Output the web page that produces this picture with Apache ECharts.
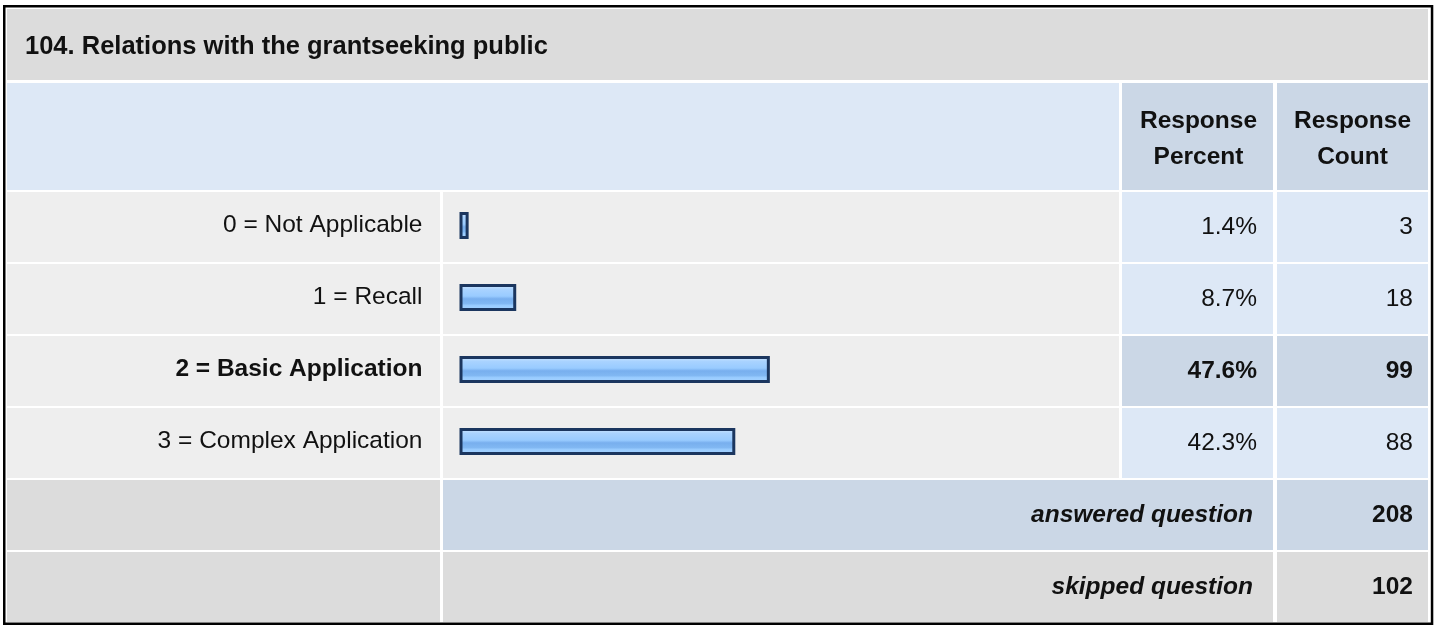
<!DOCTYPE html>
<html>
<head>
<meta charset="utf-8">
<script src="https://cdn.jsdelivr.net/npm/echarts@6/dist/echarts.min.js"></script>
<style>
html,body{margin:0;padding:0;background:#fff;}
#c{width:1438px;height:625px;}
</style>
</head>
<body>
<div id="c"></div>
<script>
// ---- data ----
const titleText = '104. Relations with the grantseeking public';
const categories = ['0 = Not Applicable', '1 = Recall', '2 = Basic Application', '3 = Complex Application'];
const percents = [1.4, 8.7, 47.6, 42.3];
const counts = [3, 18, 99, 88];
const headerLabels = ['Response\nPercent', 'Response\nCount'];
const summaryLabels = ['answered question', 'skipped question'];
const summaryValues = [208, 102];

// ---- layout / style ----
const FONT = "Arial, Helvetica, sans-serif";
const FS = 24.5;
const C_GREY = '#dcdcdc', C_ROW = '#eeeeee', C_BLUE = '#dde8f6', C_BLUE2 = '#cbd7e6';
const cols = [[7, 440], [443, 1119], [1122, 1273], [1277, 1428]];
const rowTop0 = 192, rowStep = 72, rowH = 70;
const hi = counts.indexOf(Math.max.apply(null, counts));

const g = [];
function rect(x0, x1, y0, y1, fill) {
  g.push({type: 'rect', z: 0, shape: {x: x0, y: y0, width: x1 - x0, height: y1 - y0}, style: {fill: fill}});
}
function text(str, x, y, align, weight, style, size, extra) {
  g.push({type: 'text', z: 10, x: x, y: y,
    style: Object.assign({text: str, fill: '#111', fontFamily: FONT, fontSize: size || FS,
      fontWeight: weight || 'normal', fontStyle: style || 'normal',
      align: align, verticalAlign: 'middle'}, extra || {})});
}
// title row
rect(7, 1428, 9, 80, C_GREY);
text(titleText, 25, 47, 'left', 'bold', 'normal', 25.5);
// header row
rect(7, 1119, 83, 190, C_BLUE);
rect(cols[2][0], cols[2][1], 83, 190, C_BLUE2);
rect(cols[3][0], cols[3][1], 83, 190, C_BLUE2);
text(headerLabels[0], (cols[2][0] + cols[2][1]) / 2 + 1, 139, 'center', 'bold', 'normal', FS, {lineHeight: 36});
text(headerLabels[1], (cols[3][0] + cols[3][1]) / 2, 139, 'center', 'bold', 'normal', FS, {lineHeight: 36});
// data rows
categories.forEach(function (c, i) {
  const y0 = rowTop0 + i * rowStep, y1 = y0 + rowH, cy = y0 + rowH / 2;
  const cellC = i === hi ? C_BLUE2 : C_BLUE;
  const w = i === hi ? 'bold' : 'normal';
  rect(cols[0][0], cols[0][1], y0, y1, C_ROW);
  rect(cols[1][0], cols[1][1], y0, y1, C_ROW);
  rect(cols[2][0], cols[2][1], y0, y1, cellC);
  rect(cols[3][0], cols[3][1], y0, y1, cellC);
  text(percents[i].toFixed(1) + '%', 1257, cy, 'right', w);
  text(String(counts[i]), 1413, cy, 'right', w);
});
// summary rows
summaryLabels.forEach(function (s, k) {
  const y0 = rowTop0 + (categories.length + k) * rowStep, y1 = y0 + rowH, cy = y0 + rowH / 2;
  const cellC = k === 0 ? C_BLUE2 : C_GREY;
  rect(cols[0][0], cols[0][1], y0, y1, C_GREY);
  rect(cols[1][0], cols[2][1], y0, y1, cellC);
  rect(cols[3][0], cols[3][1], y0, y1, cellC);
  text(s, 1253, cy, 'right', 'bold', 'italic');
  text(String(summaryValues[k]), 1413, cy, 'right', 'bold');
});
// outer border
g.push({type: 'rect', z: 20, shape: {x: 4.25, y: 6.25, width: 1427.8, height: 617.5},
  style: {fill: 'none', stroke: '#000', lineWidth: 2.5}});

const chart = echarts.init(document.getElementById('c'), null, {renderer: 'canvas'});
chart.setOption({
  animation: false,
  backgroundColor: '#fff',
  graphic: {elements: g},
  grid: {left: 459.5, top: 189.5, width: 652, height: 288, containLabel: false},
  xAxis: {type: 'value', min: 0, max: 100, show: false, splitLine: {show: false}},
  yAxis: {
    type: 'category', inverse: true, data: categories,
    axisLine: {show: false}, axisTick: {show: false}, splitLine: {show: false},
    axisLabel: {
      margin: 37, align: 'right',
      formatter: function (v, i) { return (i === hi ? '{b|' : '{n|') + v + '}'; },
      rich: {
        n: {fontSize: FS, fontFamily: FONT, color: '#111'},
        b: {fontSize: FS, fontFamily: FONT, fontWeight: 'bold', color: '#111'}
      }
    }
  },
  series: [{
    type: 'bar', data: percents, barWidth: 27, z: 5,
    itemStyle: {
      borderColor: '#1b365f', borderWidth: 3,
      color: new echarts.graphic.LinearGradient(0, 0, 0, 1, [
        {offset: 0, color: '#d4eaff'},
        {offset: 0.2, color: '#a9d3ff'},
        {offset: 0.45, color: '#99cbff'},
        {offset: 0.55, color: '#78afee'},
        {offset: 0.72, color: '#80b7f2'},
        {offset: 0.8, color: '#99ccff'},
        {offset: 1, color: '#a8d3ff'}
      ])
    }
  }]
});
</script>
</body>
</html>
